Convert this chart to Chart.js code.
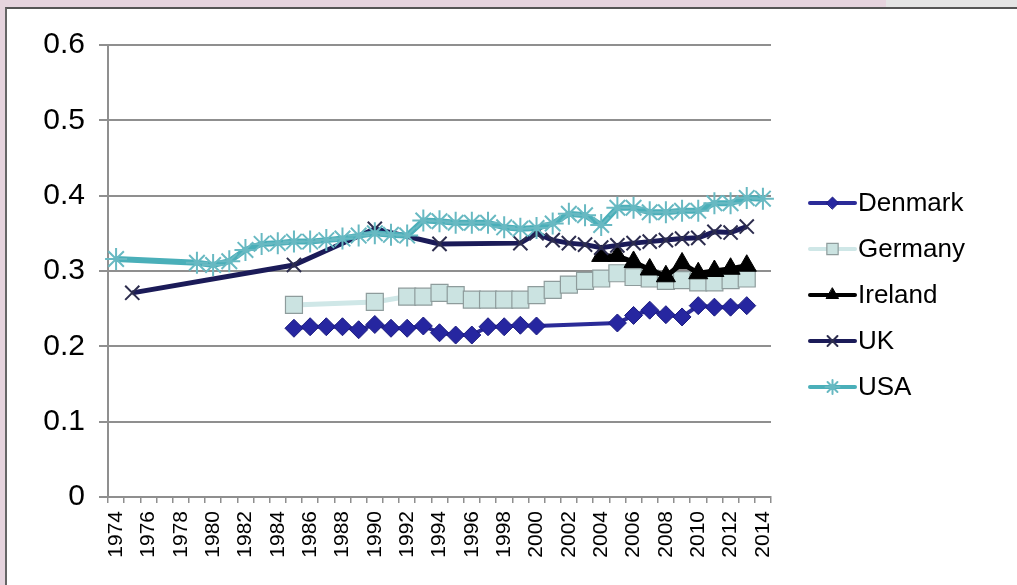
<!DOCTYPE html>
<html>
<head>
<meta charset="utf-8">
<script src="https://cdn.jsdelivr.net/npm/chart.js@4.4.1/dist/chart.umd.min.js"></script>
<style>
    html, body { margin: 0; padding: 0; }
    body {
        width: 1017px;
        height: 585px;
        overflow: hidden;
        background: #e6d4de;
        position: relative;
    }
    #topRight {
        position: absolute;
        left: 886px; top: 0;
        width: 131px; height: 8px;
        background: #e4e4e4;
    }
    #frame {
        position: absolute;
        left: 5px; top: 7px;
        width: 1012px; height: 578px;
        border-top: 2px solid #555;
        border-left: 2px solid #666;
        background: #fff;
    }
    canvas { display: block; }
</style>
</head>
<body>
<div id="topRight"></div>
<div id="frame">
    <canvas id="giniChart" width="1010" height="576"></canvas>
</div>
<script>
// Years on the category axis
const years = [];
for (let y = 1974; y <= 2014; y++) years.push(String(y));

// Gini values per country, keyed by year (missing years are gaps)
const denmarkYears = [1985, 1986, 1987, 1988, 1989, 1990, 1991, 1992, 1993, 1994, 1995, 1996, 1997, 1998, 1999, 2000,
    2005, 2006, 2007, 2008, 2009, 2010, 2011, 2012, 2013];
const denmarkValues = [0.224, 0.226, 0.226, 0.226, 0.222, 0.229, 0.224, 0.224, 0.227, 0.218, 0.215, 0.215, 0.226, 0.226, 0.228, 0.227,
    0.231, 0.241, 0.248, 0.242, 0.239, 0.254, 0.252, 0.252, 0.254];

const germanyYears = [1985, 1990, 1992, 1993, 1994, 1995, 1996, 1997, 1998, 1999, 2000, 2001, 2002, 2003, 2004,
    2005, 2006, 2007, 2008, 2009, 2010, 2011, 2012, 2013];
const germanyValues = [0.255, 0.259, 0.266, 0.266, 0.271, 0.268, 0.262, 0.262, 0.262, 0.262, 0.268, 0.275, 0.282, 0.287, 0.290,
    0.297, 0.292, 0.290, 0.287, 0.288, 0.285, 0.285, 0.288, 0.290];

const irelandYears = [2004, 2005, 2006, 2007, 2008, 2009, 2010, 2011, 2012, 2013];
const irelandValues = [0.320, 0.320, 0.312, 0.302, 0.293, 0.310, 0.297, 0.300, 0.303, 0.307];

const ukYears = [1975, 1985, 1990, 1994, 1999, 2000, 2001, 2002, 2003, 2004, 2005, 2006, 2007, 2008, 2009, 2010, 2011, 2012, 2013];
const ukValues = [0.271, 0.308, 0.356, 0.336, 0.337, 0.350, 0.341, 0.337, 0.335, 0.331, 0.334, 0.337, 0.339, 0.341, 0.343, 0.344,
    0.352, 0.351, 0.359];

const usaYears = [1974, 1979, 1980, 1981, 1982, 1983, 1984, 1985, 1986, 1987, 1988, 1989, 1990, 1991, 1992, 1993, 1994, 1995,
    1996, 1997, 1998, 1999, 2000, 2001, 2002, 2003, 2004, 2005, 2006, 2007, 2008, 2009, 2010, 2011, 2012, 2013, 2014];
const usaValues = [0.316, 0.311, 0.308, 0.313, 0.328, 0.336, 0.337, 0.339, 0.339, 0.341, 0.343, 0.347, 0.350, 0.348, 0.347, 0.367,
    0.366, 0.364, 0.364, 0.364, 0.358, 0.356, 0.357, 0.363, 0.376, 0.374, 0.361, 0.384, 0.384, 0.378, 0.378, 0.380, 0.380,
    0.390, 0.390, 0.397, 0.396];

// Y axis ticks
const yMin = 0;
const yMax = 0.6;
const yStep = 0.1;

// Spread a (years, values) pair over the full year list, null where no data
function toSeries(ys, vals) {
    const out = years.map(() => null);
    ys.forEach((y, i) => { out[y - 1974] = vals[i]; });
    return out;
}

Chart.defaults.font.family = '"Liberation Sans", Arial, sans-serif';
Chart.defaults.color = '#000';

const series = [
    {
        label: 'Denmark', data: toSeries(denmarkYears, denmarkValues),
        borderColor: '#2b2b98', borderWidth: 4,
        pointStyle: 'rectRot', pointRadius: 9,
        pointBackgroundColor: '#2626a0', pointBorderColor: '#1c1c80', pointBorderWidth: 1,
        order: 5, legendRadius: 6
    },
    {
        label: 'Germany', data: toSeries(germanyYears, germanyValues),
        borderColor: '#cfe7e7', borderWidth: 5,
        pointStyle: 'rect', pointRadius: 12,
        pointBackgroundColor: '#cbe3e1', pointBorderColor: '#8e9c9c', pointBorderWidth: 1.2,
        order: 4, legendRadius: 8
    },
    {
        label: 'Ireland', data: toSeries(irelandYears, irelandValues),
        borderColor: '#000', borderWidth: 5,
        pointStyle: 'triangle', pointRadius: 11,
        pointBackgroundColor: '#000', pointBorderColor: '#000', pointBorderWidth: 1,
        order: 3, legendRadius: 7
    },
    {
        label: 'UK', data: toSeries(ukYears, ukValues),
        borderColor: '#1b1b58', borderWidth: 5,
        pointStyle: 'crossRot', pointRadius: 10,
        pointBackgroundColor: '#2a2a50', pointBorderColor: '#2d2d4e', pointBorderWidth: 2,
        order: 2, legendRadius: 7
    },
    {
        label: 'USA', data: toSeries(usaYears, usaValues),
        borderColor: '#4aafb9', borderWidth: 6,
        pointStyle: 'star', pointRadius: 11,
        pointBackgroundColor: '#6bbcc4', pointBorderColor: '#68b9c2', pointBorderWidth: 2,
        order: 1, legendRadius: 7
    }
];

// Legend drawn as line + marker, the way the spreadsheet shows it
const sideLegend = {
    id: 'sideLegend',
    afterDraw(chart) {
        const ctx = chart.ctx;
        const x0 = 803, x1 = 848, textX = 851;
        const rowTop = 194, rowGap = 46;
        ctx.save();
        series.forEach((s, i) => {
            const y = rowTop + i * rowGap;
            ctx.beginPath();
            ctx.moveTo(x0, y);
            ctx.lineTo(x1, y);
            ctx.lineWidth = 4;
            ctx.lineCap = 'round';
            ctx.strokeStyle = s.borderColor;
            ctx.stroke();

            ctx.fillStyle = s.pointBackgroundColor;
            ctx.strokeStyle = s.pointBorderColor;
            ctx.lineWidth = s.pointBorderWidth;
            Chart.helpers.drawPoint(ctx, {
                pointStyle: s.pointStyle, radius: s.legendRadius, rotation: 0, borderWidth: s.pointBorderWidth
            }, (x0 + x1) / 2, y);

            ctx.fillStyle = '#000';
            ctx.font = '26px "Liberation Sans", Arial, sans-serif';
            ctx.textBaseline = 'middle';
            ctx.textAlign = 'left';
            ctx.fillText(s.label, textX, y + 1);
        });
        ctx.restore();
    }
};

const ctx = document.getElementById('giniChart').getContext('2d');
const giniChart = new Chart(ctx, {
    type: 'line',
    data: {
        labels: years,
        datasets: series.map((s) => ({
            label: s.label,
            data: s.data,
            borderColor: s.borderColor,
            borderWidth: s.borderWidth,
            pointStyle: s.pointStyle,
            pointRadius: s.pointRadius,
            pointBackgroundColor: s.pointBackgroundColor,
            pointBorderColor: s.pointBorderColor,
            pointBorderWidth: s.pointBorderWidth,
            order: s.order,
            spanGaps: true,
            tension: 0,
            fill: false
        }))
    },
    options: {
        responsive: false,
        animation: false,
        devicePixelRatio: 1,
        layout: { padding: { left: 0, top: 36, right: 246, bottom: 0 } },
        plugins: {
            legend: { display: false },
            tooltip: { enabled: false }
        },
        scales: {
            x: {
                offset: true,
                grid: {
                    offset: true,
                    drawOnChartArea: false,
                    drawTicks: true,
                    tickLength: 6,
                    color: '#8f8f8f',
                    lineWidth: 1.5
                },
                border: { display: true, color: '#8f8f8f', width: 2 },
                ticks: {
                    autoSkip: false,
                    minRotation: 90,
                    maxRotation: 90,
                    padding: 8,
                    font: { size: 21 },
                    callback: (val, idx) => (idx % 2 === 0 ? years[idx] : '')
                },
                afterFit: (scale) => { scale.height = 88; }
            },
            y: {
                min: yMin,
                max: yMax,
                ticks: {
                    stepSize: yStep,
                    padding: 14,
                    font: { size: 30 }
                },
                grid: {
                    color: '#8f8f8f',
                    lineWidth: 2,
                    tickLength: 9
                },
                border: { display: true, color: '#8f8f8f', width: 2 },
                afterFit: (scale) => { scale.width = 101; }
            }
        }
    },
    plugins: [sideLegend]
});
</script>
</body>
</html>
